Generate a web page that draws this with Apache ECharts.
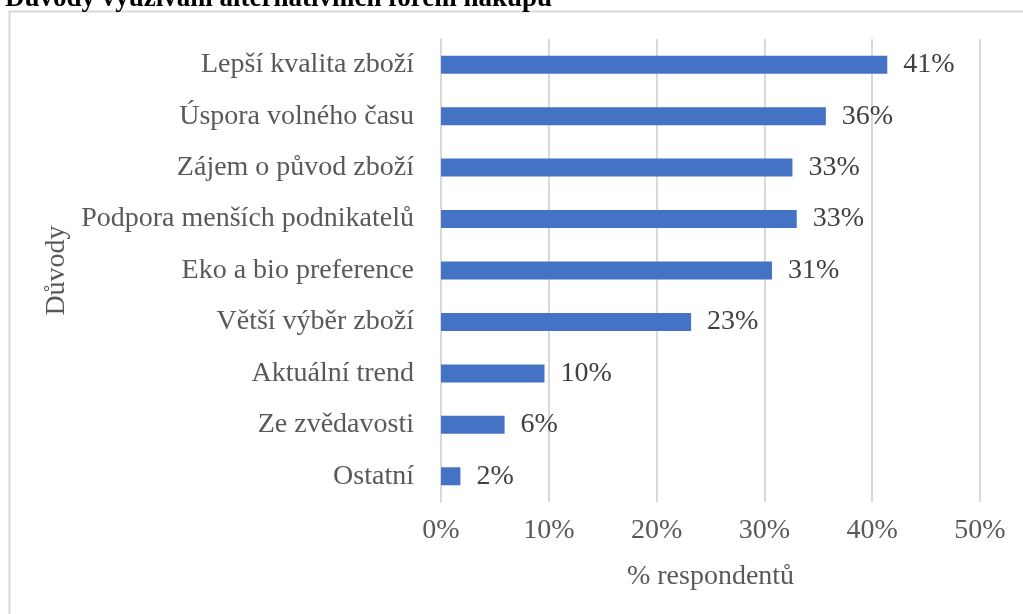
<!DOCTYPE html>
<html>
<head>
<meta charset="utf-8">
<script src="https://cdn.jsdelivr.net/npm/echarts@6/dist/echarts.min.js"></script>
<style>
  html, body { margin: 0; padding: 0; background: #fff; }
  #graf { width: 1023px; height: 614px; }
</style>
</head>
<body>
<div id="graf"></div>
<script>
// duvody (odspodu nahoru, jak je kresli kategoriova osa)
var duvody = ['Ostatní', 'Ze zvědavosti', 'Aktuální trend', 'Větší výběr zboží',
  'Eko a bio preference', 'Podpora menších podnikatelů', 'Zájem o původ zboží',
  'Úspora volného času', 'Lepší kvalita zboží'];
var podil = [1.8, 5.9, 9.6, 23.2, 30.7, 33.0, 32.6, 35.7, 41.4];
var osaX = [0, 10, 20, 30, 40, 50];

var myChart = echarts.init(document.getElementById('graf'));
var pismo = '"Liberation Serif", "DejaVu Serif", serif';

var option = {
  backgroundColor: '#fff',
  textStyle: { fontFamily: pismo },
  title: {
    text: 'Důvody využívání alternativních forem nákupu',
    left: 0,
    top: -19,
    textStyle: { fontFamily: pismo, fontSize: 27, fontWeight: 'bold', color: '#000' }
  },
  graphic: [{
    type: 'rect',
    shape: { x: 9.5, y: 11.5, width: 1030, height: 620 },
    style: { fill: 'none', stroke: '#d9d9d9', lineWidth: 2 },
    silent: true
  }],
  grid: { left: 441, right: 43, top: 39, bottom: 112 },
  xAxis: {
    type: 'value',
    min: osaX[0],
    max: osaX[osaX.length - 1],
    interval: 10,
    name: '% respondentů',
    nameLocation: 'middle',
    nameGap: 61,
    nameTextStyle: { fontFamily: pismo, fontSize: 28, color: '#595959' },
    axisLine: { show: false },
    axisTick: { show: false },
    axisLabel: { formatter: '{value}%', fontFamily: pismo, fontSize: 28, color: '#595959', margin: 15 },
    splitLine: { show: true, lineStyle: { color: '#d9d9d9', width: 2 } }
  },
  yAxis: {
    type: 'category',
    data: duvody,
    name: 'Důvody',
    nameLocation: 'middle',
    nameGap: 365,
    nameRotate: 90,
    nameTextStyle: { fontFamily: pismo, fontSize: 28, color: '#595959' },
    axisLine: { show: true, lineStyle: { color: '#d9d9d9', width: 2 } },
    axisTick: { show: false },
    axisLabel: { fontFamily: pismo, fontSize: 28, color: '#595959', margin: 27 }
  },
  series: [{
    type: 'bar',
    data: podil,
    barWidth: 18,
    itemStyle: { color: '#4472c4' },
    label: {
      show: true,
      position: 'right',
      distance: 16,
      fontFamily: pismo,
      fontSize: 28,
      color: '#404040',
      formatter: function (p) { return Math.round(p.value) + '%'; }
    }
  }]
};

myChart.setOption(option);
</script>
</body>
</html>
